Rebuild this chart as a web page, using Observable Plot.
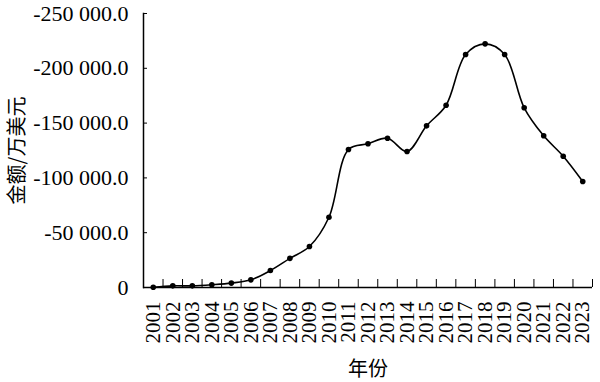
<!DOCTYPE html>
<html>
<head>
<meta charset="utf-8">
<script src="https://cdn.jsdelivr.net/npm/d3@7"></script>
<script src="https://cdn.jsdelivr.net/npm/@observablehq/plot@0.6"></script>
<style>
  html, body { margin: 0; padding: 0; background: #fff; }
  #chart { width: 600px; height: 382px; }
</style>
</head>
<body>
<div id="chart"></div>
<script>
const years = [2001, 2002, 2003, 2004, 2005, 2006, 2007, 2008, 2009, 2010, 2011, 2012,
               2013, 2014, 2015, 2016, 2017, 2018, 2019, 2020, 2021, 2022, 2023];
const amounts = [-200, -1500, -1500, -2500, -4000, -7000, -15500, -26600, -37400, -64100,
                 -125900, -131100, -136200, -124100, -147500, -166300, -212600, -222300,
                 -212600, -164000, -138400, -119800, -96700];
const yTicks = [0, -50000, -100000, -150000, -200000, -250000];
const xLabel = "年份";
const yLabel = "金额/万美元";

const data = years.map((y, i) => ({year: y, value: amounts[i]}));
const boundaries = years.map(y => y - 0.5).concat([years[years.length - 1] + 0.5]);

const loc = d3.formatLocale({decimal: ".", thousands: " ", grouping: [3], currency: ["", ""], minus: "-"});
const fmt = loc.format(",.1f");
const yFormat = d => d === 0 ? "0" : fmt(d);

const latin = "Liberation Serif, DejaVu Serif";
const cjk = "Noto Sans CJK SC";

const chart = Plot.plot({
  width: 600,
  height: 382,
  marginLeft: 143,
  marginRight: 8,
  marginTop: 13,
  marginBottom: 95,
  style: {fontSize: "20px", color: "#000", background: "#fff"},
  x: {domain: [boundaries[0], boundaries[boundaries.length - 1]]},
  y: {domain: [0, -250000]},
  marks: [
    Plot.axisY({ticks: yTicks, tickSize: 0, tickPadding: 15, tickFormat: yFormat, label: null, fontSize: 22, fontFamily: latin}),
    Plot.axisY({ticks: yTicks, tickSize: -4, tickFormat: () => "", label: null}),
    Plot.axisX({ticks: years, tickSize: 0, tickPadding: 14, tickRotate: -90, tickFormat: d => String(d), label: null, fontSize: 21, fontFamily: latin}),
    Plot.axisX({ticks: boundaries, tickSize: -8, tickFormat: () => "", label: null}),
    Plot.frame({anchor: "left", stroke: "#000", strokeWidth: 1.5}),
    Plot.ruleY([0], {stroke: "#000", strokeWidth: 1.5}),
    Plot.line(data, {x: "year", y: "value", curve: "catmull-rom", stroke: "#000", strokeWidth: 1.6}),
    Plot.dot(data, {x: "year", y: "value", r: 2.8, fill: "#000", stroke: "none"}),
    Plot.text([xLabel], {frameAnchor: "bottom", dy: 88, fontSize: 20, fontFamily: cjk, textAnchor: "middle", text: d => d}),
    Plot.text([yLabel], {frameAnchor: "left", dx: -126, rotate: -90, fontSize: 20, fontFamily: cjk, textAnchor: "middle", text: d => d})
  ]
});
document.getElementById("chart").appendChild(chart);
</script>
</body>
</html>
